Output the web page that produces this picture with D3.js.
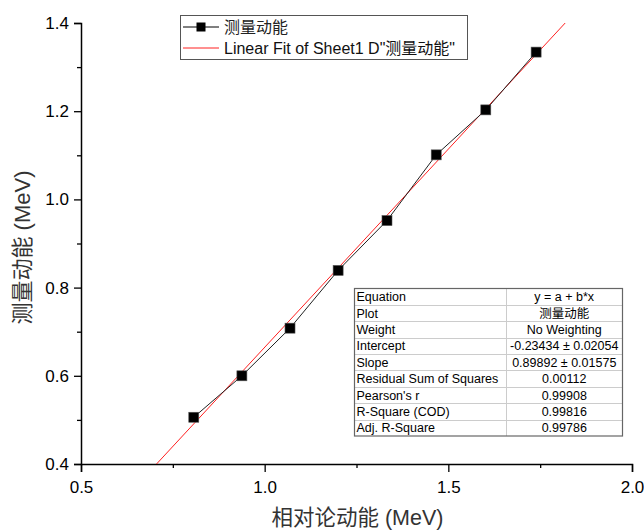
<!DOCTYPE html>
<html>
<head>
<meta charset="utf-8">
<script src="https://cdn.jsdelivr.net/npm/d3@7/dist/d3.min.js"></script>
<style>
  html, body { margin: 0; padding: 0; background: #fff; }
  svg { display: block; font-family: "Liberation Sans", Arial, "Noto Sans CJK SC", sans-serif; }
</style>
</head>
<body>
<svg id="chart" width="644" height="531"></svg>
<script>
// Relativistic kinetic energy (MeV) vs measured kinetic energy (MeV)
const relKE      = [0.807, 0.938, 1.069, 1.200, 1.333, 1.467, 1.602, 1.739];
const measuredKE = [0.506, 0.600, 0.708, 0.839, 0.952, 1.101, 1.203, 1.334];

// Linear fit parameters
const fitIntercept = -0.23434;
const fitSlope = 0.89892;
const fitXRange = [0.70, 1.82];

const xTicks = [0.5, 1.0, 1.5, 2.0];
const xMinorTicks = [0.75, 1.25, 1.75];
const yTicks = [0.4, 0.6, 0.8, 1.0, 1.2, 1.4];
const yMinorTicks = [0.5, 0.7, 0.9, 1.1, 1.3];

const tableLabels = ["Equation", "Plot", "Weight", "Intercept", "Slope",
  "Residual Sum of Squares", "Pearson's r", "R-Square (COD)", "Adj. R-Square"];
const tableValues = ["y = a + b*x", "测量动能", "No Weighting",
  "-0.23434 ± 0.02054", "0.89892 ± 0.01575", "0.00112", "0.99908", "0.99816", "0.99786"];

const svg = d3.select("#chart");
const plot = { left: 81, right: 632, top: 23, bottom: 464 };

const x = d3.scaleLinear().domain([0.5, 2.0]).range([plot.left, plot.right]);
const y = d3.scaleLinear().domain([0.4, 1.4]).range([plot.bottom, plot.top]);

svg.append("defs").append("clipPath").attr("id", "plotClip")
  .append("rect")
  .attr("x", plot.left).attr("y", plot.top)
  .attr("width", plot.right - plot.left).attr("height", plot.bottom - plot.top);

// Axes
const fmt = d3.format(".1f");
const xAxis = svg.append("g").attr("transform", `translate(0,${plot.bottom})`)
  .call(d3.axisBottom(x).tickValues(xTicks).tickFormat(fmt).tickSize(8).tickPadding(6));
const xMinor = svg.append("g").attr("transform", `translate(0,${plot.bottom})`)
  .call(d3.axisBottom(x).tickValues(xMinorTicks).tickFormat("").tickSize(4));
const yAxis = svg.append("g").attr("transform", `translate(${plot.left},0)`)
  .call(d3.axisLeft(y).tickValues(yTicks).tickFormat(fmt).tickSize(7).tickPadding(5));
const yMinor = svg.append("g").attr("transform", `translate(${plot.left},0)`)
  .call(d3.axisLeft(y).tickValues(yMinorTicks).tickFormat("").tickSize(4));

[xAxis, xMinor, yAxis, yMinor].forEach(g => {
  g.select(".domain").attr("stroke", "#000").attr("stroke-width", 1.5);
  g.selectAll(".tick line").attr("stroke", "#000").attr("stroke-width", 1.3);
  g.selectAll(".tick text").attr("fill", "#000")
    .style("font-size", "17px").style("font-family", "'Liberation Sans', Arial, sans-serif");
});
xAxis.selectAll(".tick text").attr("dy", "0.9em");
[xMinor, yMinor].forEach(g => g.select(".domain").remove());

// Axis titles
svg.append("text")
  .attr("x", (plot.left + plot.right) / 2 + 1).attr("y", 525)
  .attr("text-anchor", "middle").attr("fill", "#333")
  .style("font-size", "21.5px")
  .text("相对论动能 (MeV)");
svg.append("text")
  .attr("transform", `translate(30,${(plot.top + plot.bottom) / 2 + 4}) rotate(-90)`)
  .attr("text-anchor", "middle").attr("fill", "#333")
  .style("font-size", "22px")
  .text("测量动能 (MeV)");

const body = svg.append("g").attr("clip-path", "url(#plotClip)");

// Fit line
body.append("line")
  .attr("x1", x(fitXRange[0])).attr("y1", y(fitIntercept + fitSlope * fitXRange[0]))
  .attr("x2", x(fitXRange[1])).attr("y2", y(fitIntercept + fitSlope * fitXRange[1]))
  .attr("stroke", "#ff2020").attr("stroke-width", 1);

// Data line and markers
const pts = relKE.map((v, i) => [v, measuredKE[i]]);
body.append("path")
  .datum(pts)
  .attr("d", d3.line().x(d => x(d[0])).y(d => y(d[1])))
  .attr("fill", "none").attr("stroke", "#222").attr("stroke-width", 1);
const ms = 10;
svg.append("g").selectAll("rect").data(pts).join("rect")
  .attr("x", d => x(d[0]) - ms / 2).attr("y", d => y(d[1]) - ms / 2)
  .attr("width", ms).attr("height", ms)
  .attr("fill", "#000").attr("stroke", "#555").attr("stroke-width", 0.6);

// Legend
const lg = svg.append("g");
lg.append("rect").attr("x", 180.5).attr("y", 15.5).attr("width", 287).attr("height", 44)
  .attr("fill", "#fff").attr("stroke", "#555").attr("stroke-width", 1);
lg.append("line").attr("x1", 183).attr("x2", 219).attr("y1", 27).attr("y2", 27)
  .attr("stroke", "#000").attr("stroke-width", 1);
lg.append("rect").attr("x", 201 - 4.5).attr("y", 27 - 4.5).attr("width", 9).attr("height", 9)
  .attr("fill", "#000");
lg.append("line").attr("x1", 183).attr("x2", 219).attr("y1", 48).attr("y2", 48)
  .attr("stroke", "#ff2020").attr("stroke-width", 1);
lg.append("text").attr("x", 224).attr("y", 33).attr("fill", "#222")
  .style("font-size", "16px").text("测量动能");
lg.append("text").attr("x", 224).attr("y", 54).attr("fill", "#111")
  .style("font-size", "16px").text("Linear Fit of Sheet1 D\"测量动能\"");

// Fit statistics table
const tb = { left: 354.5, right: 622.5, top: 288.5, bottom: 436, split: 506 };
const rowH = (tb.bottom - tb.top) / tableLabels.length;
const tg = svg.append("g");
tg.append("rect").attr("x", tb.left).attr("y", tb.top)
  .attr("width", tb.right - tb.left).attr("height", tb.bottom - tb.top)
  .attr("fill", "#fff");
tableLabels.forEach((lab, i) => {
  if (i > 0) {
    tg.append("line").attr("x1", tb.left).attr("x2", tb.right)
      .attr("y1", Math.round(tb.top + i * rowH) + 0.5).attr("y2", Math.round(tb.top + i * rowH) + 0.5)
      .attr("stroke", "#ccc").attr("stroke-width", 1);
  }
  const cy = tb.top + (i + 0.5) * rowH + 4.5;
  tg.append("text").attr("x", tb.left + 2).attr("y", cy).attr("fill", "#000")
    .style("font-size", "12.5px").text(lab);
  tg.append("text").attr("x", (tb.split + tb.right) / 2).attr("y", cy).attr("fill", "#000")
    .attr("text-anchor", "middle").style("font-size", "12.5px").text(tableValues[i]);
});
tg.append("line").attr("x1", tb.split + 0.5).attr("x2", tb.split + 0.5)
  .attr("y1", tb.top).attr("y2", tb.bottom).attr("stroke", "#ccc");
tg.append("rect").attr("x", tb.left).attr("y", tb.top)
  .attr("width", tb.right - tb.left).attr("height", tb.bottom - tb.top)
  .attr("fill", "none").attr("stroke", "#666").attr("stroke-width", 1.2);
</script>
</body>
</html>
